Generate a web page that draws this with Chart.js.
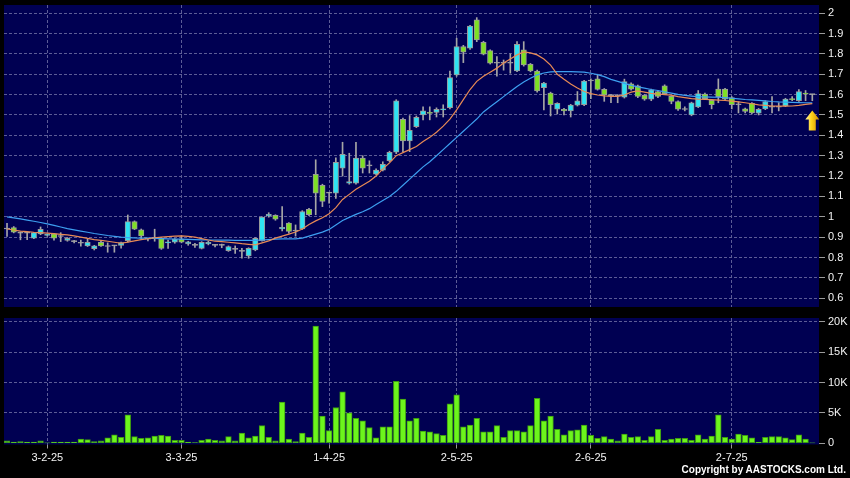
<!DOCTYPE html>
<html>
<head>
<meta charset="utf-8">
<title>Daily chart</title>
<script src="https://cdn.jsdelivr.net/npm/chart.js@4.4.1/dist/chart.umd.min.js"></script>
<style>
  html, body { margin: 0; padding: 0; background: #000; }
  #wrap { position: relative; width: 850px; height: 478px; background: #000; overflow: hidden; }
  #priceBox { position: absolute; left: 0; top: 0; width: 850px; height: 310px; }
  #volBox { position: absolute; left: 0; top: 310px; width: 850px; height: 168px; }
  #copy { position: absolute; right: 4px; top: 464px; color: #fff; font: bold 10px "Liberation Sans", Arial, sans-serif; }
</style>
</head>
<body>
<div id="wrap">
  <div id="priceBox"><canvas id="priceChart"></canvas></div>
  <div id="volBox"><canvas id="volChart"></canvas></div>
  <div id="copy">Copyright by AASTOCKS.com Ltd.</div>
</div>
<script>
// x-axis date ticks (index of the trading day they sit on)
const tickIdx = [6, 26, 48, 67, 87, 108];
const tickLabels = ['3-2-25', '3-3-25', '1-4-25', '2-5-25', '2-6-25', '2-7-25'];
const priceTicks = [0.6, 0.7, 0.8, 0.9, 1, 1.1, 1.2, 1.3, 1.4, 1.5, 1.6, 1.7, 1.8, 1.9, 2];
const volTicks = [0, 5000, 10000, 15000, 20000];

// daily prices
const opens = [
  0.940, 0.947, 0.920, 0.920, 0.895, 0.916, 0.909, 0.916, 0.903, 0.884,
  0.878, 0.870, 0.857, 0.844, 0.875, 0.854, 0.857, 0.859, 0.883, 0.976,
  0.936, 0.890, 0.894, 0.894, 0.872, 0.875, 0.890, 0.867, 0.860, 0.845,
  0.867, 0.860, 0.860, 0.834, 0.840, 0.830, 0.808, 0.837, 0.883, 1.004,
  1.007, 0.940, 0.969, 0.930, 0.941, 1.037, 1.209, 1.154, 1.116, 1.116,
  1.239, 1.165, 1.165, 1.288, 1.250, 1.209, 1.229, 1.275, 1.317, 1.479,
  1.373, 1.443, 1.500, 1.513, 1.512, 1.525, 1.536, 1.697, 1.836, 1.828,
  1.967, 1.857, 1.816, 1.754, 1.754, 1.754, 1.716, 1.820, 1.749, 1.716,
  1.634, 1.607, 1.528, 1.528, 1.520, 1.548, 1.550, 1.667, 1.677, 1.626,
  1.595, 1.592, 1.587, 1.653, 1.643, 1.597, 1.577, 1.615, 1.643, 1.591,
  1.566, 1.527, 1.500, 1.540, 1.603, 1.572, 1.627, 1.627, 1.585, 1.550,
  1.530, 1.557, 1.509, 1.530, 1.538, 1.538, 1.545, 1.578, 1.570, 1.606,
  1.600
];
const highs = [
  0.968, 0.952, 0.925, 0.924, 0.924, 0.950, 0.916, 0.919, 0.922, 0.898,
  0.884, 0.886, 0.890, 0.860, 0.880, 0.872, 0.860, 0.876, 1.009, 0.980,
  0.940, 0.896, 0.939, 0.897, 0.886, 0.893, 0.906, 0.880, 0.870, 0.878,
  0.880, 0.865, 0.866, 0.857, 0.857, 0.845, 0.848, 0.897, 1.000, 1.020,
  1.010, 1.050, 0.972, 0.960, 1.030, 1.042, 1.280, 1.160, 1.120, 1.290,
  1.366, 1.312, 1.366, 1.300, 1.275, 1.235, 1.270, 1.322, 1.575, 1.485,
  1.497, 1.495, 1.540, 1.540, 1.535, 1.550, 1.716, 1.877, 1.842, 1.940,
  1.978, 1.862, 1.820, 1.787, 1.770, 1.800, 1.860, 1.860, 1.753, 1.720,
  1.660, 1.612, 1.560, 1.532, 1.552, 1.615, 1.670, 1.677, 1.700, 1.630,
  1.600, 1.600, 1.676, 1.658, 1.647, 1.600, 1.627, 1.620, 1.648, 1.595,
  1.570, 1.540, 1.563, 1.620, 1.607, 1.576, 1.677, 1.631, 1.590, 1.565,
  1.534, 1.561, 1.532, 1.570, 1.590, 1.560, 1.582, 1.590, 1.625, 1.620,
  1.602
];
const lows = [
  0.903, 0.921, 0.887, 0.888, 0.892, 0.912, 0.905, 0.885, 0.878, 0.880,
  0.872, 0.856, 0.854, 0.837, 0.855, 0.826, 0.826, 0.846, 0.876, 0.937,
  0.890, 0.882, 0.880, 0.840, 0.845, 0.870, 0.872, 0.860, 0.850, 0.842,
  0.862, 0.852, 0.848, 0.830, 0.820, 0.797, 0.796, 0.833, 0.880, 0.998,
  0.983, 0.930, 0.920, 0.905, 0.938, 1.005, 1.010, 1.050, 1.067, 1.090,
  1.200, 1.160, 1.160, 1.215, 1.215, 1.205, 1.225, 1.270, 1.310, 1.320,
  1.320, 1.438, 1.476, 1.476, 1.490, 1.490, 1.530, 1.690, 1.757, 1.822,
  1.860, 1.795, 1.750, 1.690, 1.720, 1.705, 1.712, 1.740, 1.712, 1.612,
  1.525, 1.495, 1.505, 1.500, 1.490, 1.544, 1.546, 1.580, 1.622, 1.567,
  1.560, 1.560, 1.583, 1.622, 1.585, 1.572, 1.570, 1.585, 1.600, 1.555,
  1.522, 1.520, 1.496, 1.536, 1.575, 1.530, 1.560, 1.574, 1.530, 1.510,
  1.510, 1.505, 1.500, 1.526, 1.510, 1.520, 1.541, 1.570, 1.566, 1.570,
  1.570
];
const closes = [
  0.940, 0.924, 0.920, 0.920, 0.922, 0.939, 0.914, 0.895, 0.903, 0.894,
  0.878, 0.870, 0.875, 0.857, 0.857, 0.854, 0.857, 0.873, 0.976, 0.939,
  0.906, 0.890, 0.894, 0.845, 0.877, 0.890, 0.875, 0.877, 0.860, 0.875,
  0.875, 0.860, 0.860, 0.854, 0.840, 0.830, 0.845, 0.894, 0.998, 1.012,
  0.988, 0.948, 0.928, 0.930, 1.026, 1.010, 1.116, 1.075, 1.116, 1.268,
  1.307, 1.173, 1.288, 1.239, 1.250, 1.229, 1.258, 1.317, 1.569, 1.373,
  1.425, 1.489, 1.520, 1.507, 1.528, 1.530, 1.684, 1.836, 1.808, 1.937,
  1.869, 1.798, 1.754, 1.754, 1.754, 1.754, 1.847, 1.746, 1.716, 1.618,
  1.656, 1.550, 1.557, 1.520, 1.548, 1.570, 1.667, 1.667, 1.626, 1.598,
  1.595, 1.592, 1.664, 1.627, 1.591, 1.578, 1.623, 1.591, 1.605, 1.567,
  1.528, 1.527, 1.560, 1.605, 1.580, 1.550, 1.590, 1.578, 1.550, 1.550,
  1.518, 1.510, 1.528, 1.566, 1.538, 1.538, 1.578, 1.575, 1.615, 1.602,
  1.600
];

// moving average lines as drawn (orange short, blue long)
const maShort = [
  0.940, 0.935, 0.930, 0.927, 0.924, 0.922, 0.920, 0.917, 0.914, 0.911,
  0.906, 0.900, 0.894, 0.888, 0.884, 0.880, 0.875, 0.870, 0.876, 0.882,
  0.888, 0.892, 0.897, 0.900, 0.903, 0.905, 0.906, 0.904, 0.900, 0.893,
  0.886, 0.880, 0.878, 0.875, 0.872, 0.868, 0.865, 0.862, 0.872, 0.882,
  0.895, 0.905, 0.915, 0.925, 0.940, 0.962, 0.980, 0.995, 1.015, 1.045,
  1.085, 1.110, 1.135, 1.155, 1.175, 1.200, 1.235, 1.265, 1.300, 1.315,
  1.330, 1.345, 1.370, 1.390, 1.415, 1.445, 1.480, 1.525, 1.575, 1.625,
  1.665, 1.690, 1.710, 1.730, 1.755, 1.775, 1.795, 1.810, 1.805, 1.795,
  1.775, 1.745, 1.700, 1.675, 1.652, 1.632, 1.615, 1.605, 1.598, 1.594,
  1.591, 1.591, 1.598, 1.612, 1.618, 1.612, 1.606, 1.603, 1.600, 1.597,
  1.590, 1.585, 1.580, 1.578, 1.577, 1.575, 1.573, 1.571, 1.568, 1.564,
  1.560, 1.555, 1.550, 1.547, 1.544, 1.543, 1.543, 1.544, 1.547, 1.552,
  1.556
];
const maLong = [
  1.000, 0.995, 0.990, 0.984, 0.978, 0.972, 0.965, 0.958, 0.950, 0.942,
  0.936, 0.930, 0.924, 0.918, 0.913, 0.908, 0.904, 0.900, 0.898, 0.896,
  0.895, 0.895, 0.894, 0.893, 0.892, 0.891, 0.890, 0.889, 0.888, 0.887,
  0.886, 0.886, 0.885, 0.885, 0.884, 0.884, 0.884, 0.884, 0.886, 0.888,
  0.890, 0.892, 0.892, 0.892, 0.895, 0.905, 0.915, 0.925, 0.938, 0.960,
  0.982, 0.997, 1.012, 1.025, 1.040, 1.060, 1.080, 1.100, 1.125, 1.155,
  1.185, 1.215, 1.245, 1.270, 1.300, 1.330, 1.360, 1.390, 1.420, 1.450,
  1.480, 1.515, 1.540, 1.565, 1.590, 1.615, 1.640, 1.662, 1.680, 1.697,
  1.706, 1.712, 1.713, 1.713, 1.713, 1.712, 1.710, 1.705, 1.698, 1.688,
  1.675, 1.665, 1.655, 1.645, 1.638, 1.632, 1.625, 1.620, 1.613, 1.607,
  1.601, 1.596, 1.593, 1.590, 1.589, 1.588, 1.587, 1.585, 1.582, 1.579,
  1.576, 1.574, 1.572, 1.569, 1.566, 1.564, 1.563, 1.562, 1.561, 1.560,
  1.559
];

// daily turnover (shares)
const volumes = [
  400, 200, 300, 200, 200, 400, 50, 200, 200, 200,
  200, 700, 600, 300, 400, 900, 1400, 1000, 4700, 1100,
  800, 900, 1200, 1300, 1200, 500, 500, 200, 100, 500,
  700, 500, 400, 1100, 400, 1700, 900, 1200, 2900, 1000,
  400, 6800, 700, 300, 1700, 1000, 19300, 4500, 2100, 5900,
  8500, 5000, 4100, 3700, 2600, 900, 2700, 2700, 10200, 7300,
  3700, 4100, 2000, 1900, 1600, 1300, 6500, 8000, 2700, 3000,
  4100, 1900, 1900, 2900, 1000, 2100, 2100, 1900, 2900, 7400,
  3700, 4500, 2300, 1400, 2100, 2200, 3000, 1300, 800, 1100,
  700, 400, 1500, 1000, 1100, 500, 1100, 2300, 500, 700,
  800, 800, 500, 1400, 700, 1200, 4700, 1000, 700, 1500,
  1300, 900, 200, 1000, 1100, 1100, 900, 600, 1400, 700,
  50
];

const NAVY = '#000052';
const GRID = '#5c5c96';
const UP = '#2fe3f2';
const DOWN = '#7ee024';
const FLAT = '#a8a8a8';
const FONT = { family: '"Liberation Sans", Arial, sans-serif', size: 11 };
const X_MIN = -0.45, X_MAX = 121;

const panelBg = {
  id: 'panelBg',
  beforeDraw(chart) {
    const { ctx, chartArea: a } = chart;
    ctx.save();
    ctx.fillStyle = NAVY;
    ctx.fillRect(a.left, a.top, a.right - a.left, a.bottom - a.top);
    ctx.restore();
  }
};

// yellow arrow under the last day
const lastArrow = {
  id: 'lastArrow',
  afterDatasetsDraw(chart) {
    const ctx = chart.ctx;
    const x = chart.scales.x.getPixelForValue(opens.length - 1);
    const tip = chart.scales.y.getPixelForValue(maShort[maShort.length - 1]) + 7;
    const g = ctx.createLinearGradient(x - 7, 0, x + 7, 0);
    g.addColorStop(0, '#fff2a0');
    g.addColorStop(0.45, '#ffd21a');
    g.addColorStop(1, '#d08a00');
    ctx.save();
    ctx.beginPath();
    ctx.moveTo(x, tip);
    ctx.lineTo(x + 7, tip + 9);
    ctx.lineTo(x + 3.5, tip + 9);
    ctx.lineTo(x + 3.5, tip + 20);
    ctx.lineTo(x - 3.5, tip + 20);
    ctx.lineTo(x - 3.5, tip + 9);
    ctx.lineTo(x - 7, tip + 9);
    ctx.closePath();
    ctx.fillStyle = g;
    ctx.fill();
    ctx.restore();
  }
};

function xScale(withLabels, height) {
  return {
    type: 'linear',
    min: X_MIN,
    max: X_MAX,
    offset: false,
    afterBuildTicks: axis => { axis.ticks = tickIdx.map(v => ({ value: v })); },
    afterFit: axis => {
      axis.height = height;
      axis.paddingLeft = 0;
      axis.paddingRight = 0;
    },
    ticks: {
      display: withLabels,
      autoSkip: false,
      maxRotation: 0,
      color: '#f2f2f2',
      font: FONT,
      padding: 3,
      callback: v => tickLabels[tickIdx.indexOf(v)]
    },
    grid: { color: GRID, offset: false, drawTicks: withLabels, tickLength: 4, tickColor: '#9a9a9a', tickBorderDash: [] },
    border: { display: false, dash: [3, 2] }
  };
}

function yScale(min, max, ticks, fmt) {
  return {
    position: 'right',
    min: min,
    max: max,
    afterBuildTicks: axis => { axis.ticks = ticks.map(v => ({ value: v })); },
    afterFit: axis => {
      axis.width = 31;
      axis.paddingTop = 0;
      axis.paddingBottom = 0;
    },
    ticks: { color: '#f2f2f2', font: FONT, padding: 3, callback: fmt },
    grid: {
      color: ctx => ctx.tick && ctx.tick.value === 0 ? 'rgba(0,0,0,0)' : GRID,
      tickLength: 6,
      tickColor: '#9a9a9a',
      tickBorderDash: []
    },
    border: { display: false, dash: [3, 2] }
  };
}

const bodyColors = opens.map((o, i) => closes[i] > o ? UP : (closes[i] < o ? DOWN : FLAT));

new Chart(document.getElementById('priceChart'), {
  type: 'bar',
  data: {
    datasets: [
      {
        type: 'line',
        data: maShort.map((v, i) => ({ x: i, y: v })),
        borderColor: '#e88a55',
        borderWidth: 1.2,
        pointRadius: 0,
        tension: 0,
        order: 1
      },
      {
        type: 'line',
        data: maLong.map((v, i) => ({ x: i, y: v })),
        borderColor: '#3d9ff0',
        borderWidth: 1.2,
        pointRadius: 0,
        tension: 0,
        order: 1
      },
      {
        data: opens.map((o, i) => ({ x: i, y: [o, closes[i]] })),
        backgroundColor: bodyColors,
        borderColor: '#9a9a9a',
        borderWidth: 1,
        borderSkipped: false,
        barThickness: 5.4,
        minBarLength: 1,
        grouped: false,
        order: 2
      },
      {
        data: lows.map((l, i) => ({ x: i, y: [l, highs[i]] })),
        backgroundColor: '#a6a6a6',
        borderWidth: 0,
        barThickness: 1,
        grouped: false,
        order: 3
      }
    ]
  },
  options: {
    responsive: true,
    maintainAspectRatio: false,
    animation: false,
    layout: { padding: { left: 4, top: 5, right: 0, bottom: 0 } },
    plugins: { legend: { display: false }, tooltip: { enabled: false } },
    scales: {
      x: xScale(false, 3),
      y: yScale(0.557, 2.04, priceTicks, v => String(+v.toFixed(1)))
    }
  },
  plugins: [panelBg, lastArrow]
});

new Chart(document.getElementById('volChart'), {
  type: 'bar',
  data: {
    datasets: [{
      data: volumes.map((v, i) => ({ x: i, y: v })),
      backgroundColor: '#6cf51c',
      borderColor: '#3d9a12',
      borderWidth: 1,
      borderSkipped: false,
      barThickness: 5.7,
      grouped: false
    }]
  },
  options: {
    responsive: true,
    maintainAspectRatio: false,
    animation: false,
    layout: { padding: { left: 4, top: 8, right: 0, bottom: 0 } },
    plugins: { legend: { display: false }, tooltip: { enabled: false } },
    scales: {
      x: xScale(true, 33.5),
      y: yScale(-200, 20650, volTicks, v => v === 0 ? '0' : (v / 1000) + 'K')
    }
  },
  plugins: [panelBg]
});
</script>
</body>
</html>
